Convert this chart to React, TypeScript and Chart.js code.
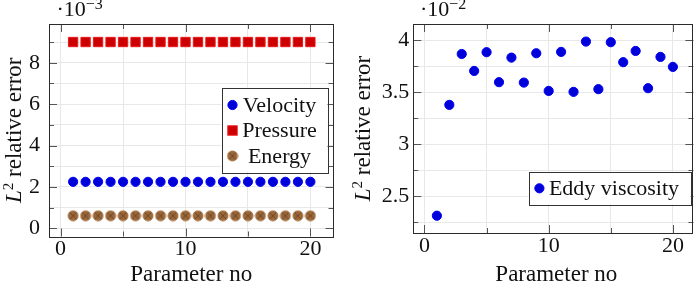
import React, { useEffect, useRef } from "react";
import { Chart, registerables } from "chart.js";

Chart.register(...registerables);

// Parameter index shared by both panels
const paramNo = [1, 2, 3, 4, 5, 6, 7, 8, 9, 10, 11, 12, 13, 14, 15, 16, 17, 18, 19, 20];

// Left panel: L2 relative errors, in units of 1e-3
const velocityErr = [2.25, 2.25, 2.25, 2.25, 2.25, 2.25, 2.25, 2.25, 2.25, 2.25, 2.25, 2.25, 2.25, 2.25, 2.25, 2.25, 2.25, 2.25, 2.25, 2.25];
const pressureErr = [9.0, 9.0, 9.0, 9.0, 9.0, 9.0, 9.0, 9.0, 9.0, 9.0, 9.0, 9.0, 9.0, 9.0, 9.0, 9.0, 9.0, 9.0, 9.0, 9.0];
const energyErr = [0.61, 0.61, 0.61, 0.61, 0.61, 0.61, 0.61, 0.61, 0.61, 0.61, 0.61, 0.61, 0.61, 0.61, 0.61, 0.61, 0.61, 0.61, 0.61, 0.61];

// Right panel: eddy viscosity L2 relative error, in units of 1e-2
const eddyErr = [2.314, 3.379, 3.868, 3.705, 3.885, 3.597, 3.833, 3.593, 3.875, 3.513, 3.888, 3.504, 3.987, 3.53, 3.981, 3.789, 3.897, 3.539, 3.84, 3.744];

// Tick positions (all get a grid line and a tick mark, labelled ones get text)
const xTicks = [0, 5, 10, 15, 20];
const xLabelled = [0, 10, 20];
const leftYTicks = [0, 1, 2, 3, 4, 5, 6, 7, 8, 9];
const leftYLabelled = [0, 2, 4, 6, 8];
const rightYTicks = [2.25, 2.5, 2.75, 3, 3.25, 3.5, 3.75, 4];
const rightYLabelled = [2.5, 3, 3.5, 4];

const SERIF = '"Liberation Serif", "DejaVu Serif", serif';
const TEXT = "#111111";
const GRID = "#e8e8e8";
const FRAME = "#2b2b2b";

const BLUE_FILL = "#0000d8";
const BLUE_LINE = "#0000f5";
const RED_FILL = "#cc0000";
const RED_LINE = "#ee1a1a";

// Brown circle with a diagonal cross
function makeOtimes(): HTMLCanvasElement {
  const c = document.createElement("canvas");
  c.width = 12;
  c.height = 12;
  const g = c.getContext("2d")!;
  g.beginPath();
  g.arc(6, 6, 5, 0, Math.PI * 2);
  g.fillStyle = "#9a673a";
  g.fill();
  g.lineWidth = 1;
  g.strokeStyle = "#a87444";
  g.stroke();
  g.beginPath();
  const d = 3.4;
  g.moveTo(6 - d, 6 - d);
  g.lineTo(6 + d, 6 + d);
  g.moveTo(6 + d, 6 - d);
  g.lineTo(6 - d, 6 + d);
  g.strokeStyle = "#6c4524";
  g.lineWidth = 0.9;
  g.stroke();
  return c;
}

type Piece = { text: string; font: string; rise: number };

function drawPieces(ctx: CanvasRenderingContext2D, pieces: Piece[], x: number, y: number, centred: boolean) {
  let total = 0;
  for (const p of pieces) {
    ctx.font = p.font;
    total += ctx.measureText(p.text).width;
  }
  let cx = centred ? x - total / 2 : x;
  ctx.textAlign = "left";
  ctx.textBaseline = "alphabetic";
  for (const p of pieces) {
    ctx.font = p.font;
    ctx.fillText(p.text, cx, y - p.rise);
    cx += ctx.measureText(p.text).width;
  }
}

type Marker = { kind: "circle" | "rect" | "image"; image?: HTMLCanvasElement };

function drawMarker(ctx: CanvasRenderingContext2D, m: Marker, x: number, y: number) {
  if (m.kind === "circle") {
    ctx.beginPath();
    ctx.arc(x, y, 4.6, 0, Math.PI * 2);
    ctx.fillStyle = BLUE_FILL;
    ctx.fill();
    ctx.lineWidth = 1;
    ctx.strokeStyle = BLUE_LINE;
    ctx.stroke();
  } else if (m.kind === "rect") {
    ctx.fillStyle = RED_FILL;
    ctx.fillRect(x - 4.7, y - 4.7, 9.4, 9.4);
    ctx.lineWidth = 1;
    ctx.strokeStyle = RED_LINE;
    ctx.strokeRect(x - 4.7, y - 4.7, 9.4, 9.4);
  } else if (m.image) {
    ctx.drawImage(m.image, x - m.image.width / 2, y - m.image.height / 2);
  }
}

interface LegendCfg {
  right: number; // inset from plot right
  top?: number; // inset from plot top
  bottom?: number; // inset from plot bottom
  width: number;
  height: number;
  rows: number[];
  markerX: number;
  textX: number;
  items: { label: string; marker: Marker }[];
}

interface PanelCfg {
  width: number;
  xMin: number;
  xMax: number;
  yMin: number;
  yMax: number;
  yTicks: number[];
  yLabelled: number[];
  yAxisWidth: number;
  xAxisHeight: number;
  padRight: number;
  yLabelPad: number;
  exponent: string;
  expOffset: number;
  yTitleBaseline: number;
  xTitleShift: number;
  datasets: any[];
  legend: LegendCfg;
}

function makeDecor(cfg: PanelCfg) {
  return {
    id: "decor",
    beforeDatasetsDraw(chart: Chart) {
      const { ctx, chartArea: a } = chart;
      const xs: any = chart.scales.x;
      const ys: any = chart.scales.y;
      ctx.save();
      ctx.strokeStyle = "#555555";
      ctx.lineWidth = 1;
      ctx.beginPath();
      for (const v of xTicks) {
        const px = Math.round(xs.getPixelForValue(v)) + 0.5;
        const len = xLabelled.includes(v) ? 8 : 5;
        ctx.moveTo(px, a.bottom);
        ctx.lineTo(px, a.bottom - len);
        ctx.moveTo(px, a.top);
        ctx.lineTo(px, a.top + len);
      }
      for (const v of cfg.yTicks) {
        const py = Math.round(ys.getPixelForValue(v)) + 0.5;
        const len = cfg.yLabelled.includes(v) ? 8 : 5;
        ctx.moveTo(a.left, py);
        ctx.lineTo(a.left + len, py);
        ctx.moveTo(a.right, py);
        ctx.lineTo(a.right - len, py);
      }
      ctx.stroke();
      ctx.strokeStyle = FRAME;
      ctx.strokeRect(Math.round(a.left) + 0.5, Math.round(a.top) + 0.5, Math.round(a.right - a.left) - 1, Math.round(a.bottom - a.top));
      ctx.restore();
    },
    afterDatasetsDraw(chart: Chart) {
      const { ctx, chartArea: a } = chart;
      ctx.save();
      ctx.fillStyle = TEXT;

      // scale factor above the y axis
      drawPieces(
        ctx,
        [
          { text: "·10", font: `22px ${SERIF}`, rise: 0 },
          { text: "−" + cfg.exponent, font: `16px ${SERIF}`, rise: 7 },
        ],
        a.left + cfg.expOffset,
        16,
        false
      );

      // x axis title
      drawPieces(
        ctx,
        [{ text: "Parameter no", font: `23px ${SERIF}`, rise: 0 }],
        (a.left + a.right) / 2 + cfg.xTitleShift,
        281,
        true
      );

      // y axis title, rotated
      ctx.save();
      ctx.translate(cfg.yTitleBaseline, (a.top + a.bottom) / 2);
      ctx.rotate(-Math.PI / 2);
      drawPieces(
        ctx,
        [
          { text: "L", font: `italic 23px ${SERIF}`, rise: 0 },
          { text: "2", font: `15px ${SERIF}`, rise: 8 },
          { text: " relative error", font: `23px ${SERIF}`, rise: 0 },
        ],
        0,
        0,
        true
      );
      ctx.restore();

      // legend box
      const L = cfg.legend;
      const left = a.right - L.right - L.width;
      const top = L.top !== undefined ? a.top + L.top : a.bottom - (L.bottom || 0) - L.height;
      ctx.fillStyle = "#ffffff";
      ctx.fillRect(left, top, L.width, L.height);
      ctx.strokeStyle = "#333333";
      ctx.lineWidth = 1;
      ctx.strokeRect(Math.round(left) + 0.5, Math.round(top) + 0.5, Math.round(L.width), Math.round(L.height));
      L.items.forEach((it, i) => {
        const ry = top + L.rows[i];
        drawMarker(ctx, it.marker, left + L.markerX, ry);
        ctx.fillStyle = TEXT;
        ctx.font = `22px ${SERIF}`;
        ctx.textAlign = "center";
        ctx.textBaseline = "middle";
        ctx.fillText(it.label, left + L.textX, ry + 1);
      });
      ctx.restore();
    },
  };
}

function Panel({ cfg }: { cfg: PanelCfg }) {
  const ref = useRef<HTMLCanvasElement>(null);
  useEffect(() => {
    if (!ref.current) return;
    const tickFont = { family: SERIF, size: 22, lineHeight: 1 };
    const chart = new Chart(ref.current, {
      type: "scatter",
      data: { datasets: cfg.datasets },
      options: {
        animation: false,
        responsive: false,
        devicePixelRatio: 1,
        layout: { padding: { top: 24, right: cfg.padRight, left: 0, bottom: 0 } },
        plugins: { legend: { display: false }, tooltip: { enabled: false } },
        scales: {
          x: {
            type: "linear",
            min: cfg.xMin,
            max: cfg.xMax,
            afterBuildTicks: (s: any) => {
              s.ticks = xTicks.map((v) => ({ value: v }));
            },
            afterFit: (s: any) => {
              s.height = cfg.xAxisHeight;
            },
            grid: { color: GRID, lineWidth: 1, drawTicks: false },
            border: { display: false },
            ticks: {
              autoSkip: false,
              maxRotation: 0,
              padding: 2,
              color: TEXT,
              font: tickFont,
              callback: (v: any) => (xLabelled.includes(Number(v)) ? String(v) : ""),
            },
          },
          y: {
            type: "linear",
            min: cfg.yMin,
            max: cfg.yMax,
            afterBuildTicks: (s: any) => {
              s.ticks = cfg.yTicks.map((v) => ({ value: v }));
            },
            afterFit: (s: any) => {
              s.width = cfg.yAxisWidth;
            },
            grid: { color: GRID, lineWidth: 1, drawTicks: false },
            border: { display: false },
            ticks: {
              autoSkip: false,
              padding: cfg.yLabelPad,
              color: TEXT,
              font: tickFont,
              callback: (v: any) => (cfg.yLabelled.includes(Number(v)) ? String(v) : ""),
            },
          },
        },
      },
      plugins: [makeDecor(cfg)],
    } as any);
    return () => chart.destroy();
  }, [cfg]);
  return <canvas ref={ref} width={cfg.width} height={283} style={{ width: cfg.width, height: 283, display: "block" }} />;
}

const otimes = makeOtimes();
const pts = (ys: number[]) => paramNo.map((x, i) => ({ x, y: ys[i] }));

const leftCfg: PanelCfg = {
  width: 350,
  xMin: -0.93,
  xMax: 21.85,
  yMin: -0.39,
  yMax: 9.87,
  yTicks: leftYTicks,
  yLabelled: leftYLabelled,
  yAxisWidth: 49,
  xAxisHeight: 46.5,
  padRight: 16.5,
  yLabelPad: 9,
  exponent: "3",
  expOffset: 7.5,
  yTitleBaseline: 21,
  xTitleShift: 0,
  datasets: [
    { label: "Velocity", data: pts(velocityErr), pointStyle: "circle", pointRadius: 4.6, borderWidth: 1, backgroundColor: BLUE_FILL, borderColor: BLUE_LINE },
    { label: "Pressure", data: pts(pressureErr), pointStyle: "rect", pointRadius: 6.6, borderWidth: 1, backgroundColor: RED_FILL, borderColor: RED_LINE },
    { label: "Energy", data: pts(energyErr), pointStyle: otimes, pointRadius: 5 },
  ],
  legend: {
    right: 6,
    top: 63.5,
    width: 106,
    height: 84.5,
    rows: [17.5, 43, 68.5],
    markerX: 11,
    textX: 58,
    items: [
      { label: "Velocity", marker: { kind: "circle" } },
      { label: "Pressure", marker: { kind: "rect" } },
      { label: "Energy", marker: { kind: "image", image: otimes } },
    ],
  },
};

const rightCfg: PanelCfg = {
  width: 349,
  xMin: -0.9,
  xMax: 21.65,
  yMin: 2.148,
  yMax: 4.156,
  yTicks: rightYTicks,
  yLabelled: rightYLabelled,
  yAxisWidth: 63.3,
  xAxisHeight: 50,
  padRight: 4,
  yLabelPad: 4,
  exponent: "2",
  expOffset: 6.7,
  yTitleBaseline: 20,
  xTitleShift: 3,
  datasets: [
    { label: "Eddy viscosity", data: pts(eddyErr), pointStyle: "circle", pointRadius: 4.6, borderWidth: 1, backgroundColor: BLUE_FILL, borderColor: BLUE_LINE },
  ],
  legend: {
    right: 2.7,
    bottom: 28.7,
    width: 162,
    height: 32.6,
    rows: [16.6],
    markerX: 10.7,
    textX: 85.3,
    items: [{ label: "Eddy viscosity", marker: { kind: "circle" } }],
  },
};

export default function App() {
  return (
    <div style={{ position: "absolute", left: 0, top: 0, width: 699, height: 283, background: "#ffffff", overflow: "hidden" }}>
      <div style={{ position: "absolute", left: 0, top: 0 }}>
        <Panel cfg={leftCfg} />
      </div>
      <div style={{ position: "absolute", left: 350, top: 0 }}>
        <Panel cfg={rightCfg} />
      </div>
    </div>
  );
}
